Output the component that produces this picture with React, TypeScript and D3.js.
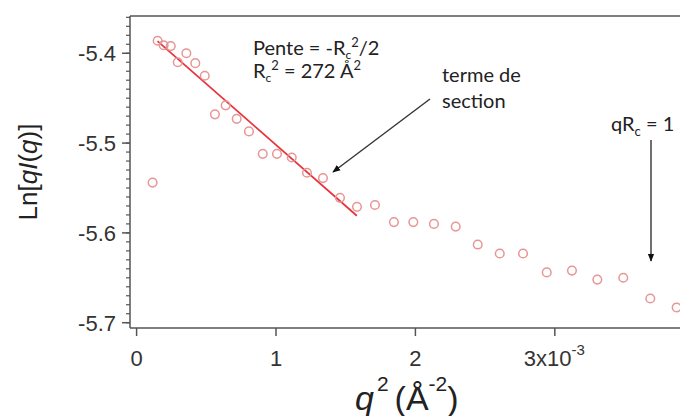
import React from "react";
import * as d3 from "d3";

const q2 = [0.115, 0.151, 0.194, 0.245, 0.295, 0.357, 0.421, 0.489, 0.562, 0.639, 0.718, 0.806, 0.905, 1.007, 1.113, 1.222, 1.337, 1.459, 1.581, 1.71, 1.846, 1.985, 2.133, 2.289, 2.447, 2.605, 2.772, 2.942, 3.123, 3.305, 3.491, 3.685, 3.874];
const lnqI = [-5.544, -5.386, -5.391, -5.392, -5.41, -5.4, -5.411, -5.425, -5.468, -5.458, -5.473, -5.487, -5.512, -5.512, -5.516, -5.533, -5.539, -5.561, -5.571, -5.569, -5.588, -5.588, -5.59, -5.593, -5.613, -5.623, -5.623, -5.644, -5.642, -5.652, -5.65, -5.673, -5.683];
const fitQ2 = [0.15, 1.58];
const fitLn = [-5.3864, -5.5809];
const xTicks = [0, 1, 2, 3];
const xTickLabels = ["0", "1", "2", "3x10"];
const yTicks = [-5.4, -5.5, -5.6, -5.7];
const yTickLabels = ["-5.4", "-5.5", "-5.6", "-5.7"];

const W = 680;
const H = 416;
const L = 130, T = 16, B = 328;

export default function App() {
  const x = d3.scaleLinear().domain([-0.0473, 3.898]).range([L, W]);
  const y = d3.scaleLinear().domain([-5.7059, -5.3585]).range([B, T]);
  const minor = d3.range(-5.7, -5.355, 0.01).map((v) => Math.round(v * 100) / 100);
  const line = d3.line<number>().x((d, i) => x(fitQ2[i])).y((d) => y(d));
  const axisColor = "#555";
  const sans = "'Liberation Sans', Arial, sans-serif";
  const anno = "Lato, 'Open Sans', sans-serif";
  return (
    <svg width={W} height={H} style={{ position: "fixed", left: 0, top: 0, background: "#fff" }}>
      <defs>
        <marker id="ah" viewBox="0 0 10 10" refX="9" refY="5" markerWidth="8" markerHeight="8" orient="auto-start-reverse" markerUnits="userSpaceOnUse">
          <path d="M0,1 L10,5 L0,9 z" fill="#111" />
        </marker>
      </defs>
      {/* frame */}
      <line x1={L} x2={W} y1={T} y2={T} stroke={axisColor} strokeWidth={1.5} />
      <line x1={L} x2={L} y1={T} y2={B} stroke={axisColor} strokeWidth={1.5} />
      <line x1={L} x2={W} y1={B} y2={B} stroke={axisColor} strokeWidth={1.5} />
      {/* y minor ticks */}
      {minor.map((v) => (
        <line key={"m" + v} x1={L - 4} x2={L} y1={y(v)} y2={y(v)} stroke={axisColor} strokeWidth={1.2} />
      ))}
      {yTicks.map((v, i) => (
        <g key={"y" + v}>
          <line x1={L - 8} x2={L} y1={y(v)} y2={y(v)} stroke={axisColor} strokeWidth={1.5} />
          <text x={116} y={y(v)} dy="0.36em" textAnchor="end" fontFamily={sans} fontSize={22} fill="#333">
            {yTickLabels[i]}
          </text>
        </g>
      ))}
      {xTicks.map((v, i) => (
        <g key={"x" + v}>
          <line x1={x(v)} x2={x(v)} y1={B} y2={B + 8} stroke={axisColor} strokeWidth={1.5} />
          {i < 3 ? (
            <text x={x(v)} y={366} textAnchor="middle" fontFamily={sans} fontSize={22} fill="#333">
              {xTickLabels[i]}
            </text>
          ) : (
            <text x={x(v) - 31} y={366} fontFamily={sans} fontSize={22} fill="#333">
              {xTickLabels[i]}
              <tspan fontSize={15} dy={-11}>-3</tspan>
            </text>
          )}
        </g>
      ))}
      {/* axis labels */}
      <text x={355} y={410} fontFamily={sans} fontSize={34} fill="#222">
        <tspan fontStyle="italic">q</tspan>
        <tspan fontSize={21} dy={-19} dx={3}>2</tspan>
        <tspan dy={19} dx={6}>(Å</tspan>
        <tspan fontSize={21} dy={-19}>-2</tspan>
        <tspan dy={19}>)</tspan>
      </text>
      <text transform="translate(37,172) rotate(-90)" textAnchor="middle" fontFamily={sans} fontSize={26} fill="#222">
        Ln[<tspan fontStyle="italic">qI</tspan>(<tspan fontStyle="italic">q</tspan>)]
      </text>
      {/* fit line */}
      <path d={line(fitLn) || ""} fill="none" stroke="#e8333c" strokeWidth={1.7} />
      {/* points */}
      {q2.map((v, i) => (
        <circle key={"p" + i} cx={x(v)} cy={y(lnqI[i])} r={4.3} fill="none" stroke="#e79595" strokeWidth={1.5} />
      ))}
      {/* annotations */}
      <text x={253} y={55} fontFamily={anno} fontSize={20} fill="#222">
        Pente = -R<tspan fontSize={12} dy={4}>c</tspan>
        <tspan fontSize={13} dy={-12}>2</tspan>
        <tspan dy={8}>/2</tspan>
      </text>
      <text x={253} y={78} fontFamily={anno} fontSize={20} fill="#222">
        R<tspan fontSize={12} dy={4}>c</tspan>
        <tspan fontSize={13} dy={-12}>2</tspan>
        <tspan dy={8}> = 272 Å</tspan>
        <tspan fontSize={13} dy={-8}>2</tspan>
      </text>
      <text x={442} y={82} fontFamily={anno} fontSize={20} fill="#222">terme de</text>
      <text x={442} y={108} fontFamily={anno} fontSize={20} fill="#222">section</text>
      <text x={611} y={131} fontFamily={anno} fontSize={20} fill="#222">
        qR<tspan fontSize={13} dy={5}>c</tspan>
        <tspan dy={-5}> = 1</tspan>
      </text>
      <line x1={430} y1={99} x2={333} y2={172} stroke="#333" strokeWidth={1.4} markerEnd="url(#ah)" />
      <line x1={651} y1={140} x2={651} y2={261} stroke="#333" strokeWidth={1.4} markerEnd="url(#ah)" />
    </svg>
  );
}
